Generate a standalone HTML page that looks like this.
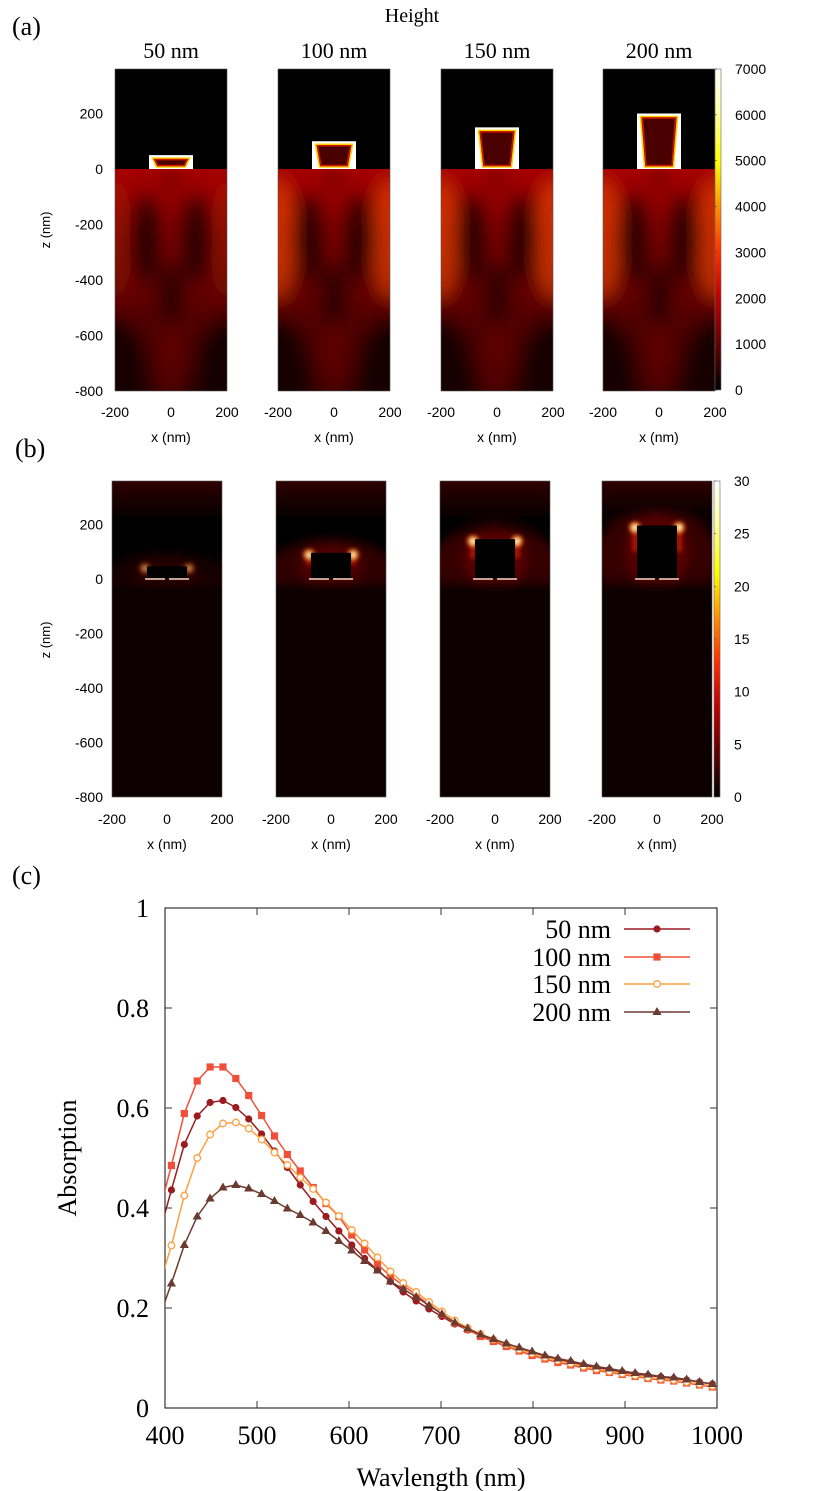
<!DOCTYPE html>
<html><head><meta charset="utf-8"><style>
html,body{margin:0;padding:0;background:#fff}
svg{display:block}
.sr{font-family:"Liberation Serif",serif}
.ss{font-family:"Liberation Sans",sans-serif}
</style></head><body>
<svg id="fig" width="830" height="1491" viewBox="0 0 830 1491" xmlns="http://www.w3.org/2000/svg">
<defs>
<linearGradient id="cmap" x1="0" y1="1" x2="0" y2="0">
<stop offset="0" stop-color="#000"/><stop offset="0.14" stop-color="#600000"/><stop offset="0.29" stop-color="#c00000"/>
<stop offset="0.43" stop-color="#ff3000"/><stop offset="0.57" stop-color="#ff9000"/><stop offset="0.71" stop-color="#ffff00"/>
<stop offset="0.86" stop-color="#ffffa0"/><stop offset="1" stop-color="#fff"/></linearGradient>
<filter id="blurA" x="-30%" y="-30%" width="160%" height="160%"><feGaussianBlur stdDeviation="9"/></filter>
<filter id="blurB" x="-30%" y="-30%" width="160%" height="160%"><feGaussianBlur stdDeviation="5"/></filter>
<filter id="blurS" x="-50%" y="-50%" width="200%" height="200%"><feGaussianBlur stdDeviation="2"/></filter>
<linearGradient id="baseA" x1="0" y1="0" x2="0" y2="1"><stop offset="0" stop-color="#b00000"/><stop offset="0.45" stop-color="#700000"/><stop offset="1" stop-color="#200000"/></linearGradient>
<linearGradient id="topB" x1="0" y1="0" x2="0" y2="1"><stop offset="0" stop-color="#3a0000"/><stop offset="1" stop-color="#000"/></linearGradient>
</defs>
<text class="sr" x="12" y="35" font-size="26">(a)</text>
<text class="sr" x="15" y="457" font-size="26">(b)</text>
<text class="sr" x="12" y="884" font-size="26">(c)</text>
<text class="sr" x="412" y="22" font-size="20" text-anchor="middle">Height</text>
<g id="maps"></g>
<g id="chart"></g>
</svg>
<script>
// ---- absorption chart data ----
const wavelengths = [393,407,421,435,449,463,477,491,505,519,533,547,561,575,589,603,617,631,645,659,673,687,701,715,729,743,757,771,785,799,813,827,841,855,869,883,897,911,925,939,953,967,981,995];
const abs50 = [0.344,0.436,0.527,0.584,0.611,0.615,0.601,0.578,0.548,0.514,0.481,0.446,0.413,0.383,0.354,0.326,0.299,0.276,0.253,0.232,0.214,0.198,0.183,0.168,0.156,0.145,0.136,0.127,0.118,0.110,0.103,0.097,0.092,0.086,0.081,0.077,0.072,0.068,0.065,0.062,0.059,0.056,0.052,0.048];
const abs100 = [0.387,0.485,0.589,0.654,0.682,0.682,0.659,0.625,0.585,0.544,0.507,0.474,0.441,0.409,0.383,0.346,0.316,0.287,0.264,0.245,0.226,0.207,0.188,0.170,0.157,0.143,0.133,0.123,0.114,0.105,0.098,0.091,0.086,0.080,0.075,0.071,0.067,0.063,0.059,0.056,0.054,0.050,0.046,0.042];
const abs150 = [0.240,0.325,0.425,0.500,0.547,0.569,0.571,0.559,0.537,0.511,0.486,0.461,0.438,0.411,0.384,0.356,0.329,0.301,0.273,0.250,0.232,0.212,0.193,0.175,0.160,0.148,0.137,0.127,0.117,0.109,0.101,0.095,0.089,0.083,0.078,0.073,0.069,0.065,0.061,0.058,0.056,0.052,0.048,0.044];
const abs200 = [0.177,0.249,0.326,0.383,0.419,0.441,0.446,0.439,0.428,0.414,0.399,0.386,0.371,0.354,0.334,0.315,0.294,0.275,0.253,0.238,0.222,0.205,0.188,0.171,0.159,0.147,0.138,0.129,0.121,0.113,0.105,0.099,0.094,0.088,0.083,0.079,0.074,0.070,0.067,0.063,0.061,0.057,0.052,0.048];
const xTicks = [400,500,600,700,800,900,1000];
const yTicks = [0,0.2,0.4,0.6,0.8,1];
const yTickLabels = ["0","0.2","0.4","0.6","0.8","1"];
const seriesNames = ["50 nm","100 nm","150 nm","200 nm"];
// ---- map panel data ----
const heights = [50,100,150,200];
const heightLabels = ["50 nm","100 nm","150 nm","200 nm"];
const zTicks = [200,0,-200,-400,-600,-800];
const xnmTicks = [-200,0,200];
const cbTicksA = [0,1000,2000,3000,4000,5000,6000,7000];
const cbTicksB = [0,5,10,15,20,25,30];

const NS="http://www.w3.org/2000/svg";
function mk(parent, tag, attrs, txt){const e=document.createElementNS(NS,tag);for(const k in attrs)e.setAttribute(k,attrs[k]);if(txt!==undefined)e.textContent=txt;parent.appendChild(e);return e;}

const maps=document.getElementById('maps');
const defs=document.querySelector('defs');
const leftsA=[115,278,441,603], leftsB=[112,276,440,602];
const colors=["#9b1c20","#f05039","#fca040","#6b3a30"];

function zAxis(top,z0,sz,xr,nameP){
  zTicks.forEach(z=>{const t=mk(maps,'text',{x:xr,y:z0-z*sz+5,'font-size':14,'text-anchor':'end',class:'ss'},String(z));
  
  });
}
function xAxis(left,w,yb,nameP){
  xnmTicks.forEach(x=>{const t=mk(maps,'text',{x:left+(x+200)*w/400,y:yb,'font-size':14,'text-anchor':'middle',class:'ss'},String(x));
  
  });
  const t=mk(maps,'text',{x:left+w/2,y:yb+25,'font-size':14,'text-anchor':'middle',class:'ss'},'x (nm)');
  
  
}
// Panel A
const aTop=69,aZ0=169,aBot=391,aS=0.2775,aW=112;
heights.forEach((H,i)=>{
  const L=leftsA[i],mid=L+aW/2,b=[0.15,0.8,0.8,0.8][i];
  const cp=mk(defs,'clipPath',{id:'ca'+i});mk(cp,'rect',{x:L,y:aTop,width:aW,height:aBot-aTop});
  const g=mk(maps,'g',{'clip-path':'url(#ca'+i+')'});
  
  
  mk(g,'rect',{x:L,y:aTop,width:aW,height:aBot-aTop,fill:'#000'});
  const cp2=mk(defs,'clipPath',{id:'cb'+i});mk(cp2,'rect',{x:L,y:aZ0,width:aW,height:aBot-aZ0});
  const gg=mk(g,'g',{'clip-path':'url(#cb'+i+')'});
  const bl=mk(gg,'g',{filter:'url(#blurA)'});
  mk(bl,'rect',{x:L-30,y:aZ0-20,width:aW+60,height:aBot-aZ0+40,fill:'url(#baseA)'});
  mk(bl,'ellipse',{cx:L,cy:aZ0+70,rx:18,ry:60,fill:'#ff5000',opacity:b*0.7});
  mk(bl,'ellipse',{cx:L+aW,cy:aZ0+70,rx:18,ry:60,fill:'#ff5000',opacity:b*0.7});
  mk(bl,'ellipse',{cx:L+31,cy:238,rx:16,ry:45,fill:'#120000',opacity:0.8});
  mk(bl,'ellipse',{cx:L+81,cy:238,rx:16,ry:45,fill:'#120000',opacity:0.8});
  mk(bl,'ellipse',{cx:mid,cy:292,rx:12,ry:32,fill:'#120000',opacity:0.75});
  mk(bl,'ellipse',{cx:mid,cy:aZ0+10,rx:5,ry:10,fill:'#200000',opacity:0.9});
  mk(bl,'ellipse',{cx:L,cy:372,rx:30,ry:55,fill:'#100000',opacity:0.9});
  mk(bl,'ellipse',{cx:L+aW,cy:372,rx:30,ry:55,fill:'#100000',opacity:0.9});
  mk(bl,'ellipse',{cx:mid,cy:362,rx:16,ry:35,fill:'#7a0000',opacity:0.5});
  const ty=aZ0-H*aS;
  mk(g,'rect',{x:mid-22,y:ty,width:44,height:aZ0-ty,fill:'#fff'});
  mk(g,'path',{d:`M${mid-18.5} ${ty+3} L${mid+18.5} ${ty+3} L${mid+14.5} ${aZ0-2} L${mid-14.5} ${aZ0-2} Z`,fill:'#4a0000',stroke:'#ffd000','stroke-width':1.6});
  mk(g,'path',{d:`M${mid-16.5} ${ty+4.5} L${mid+16.5} ${ty+4.5} L${mid+13} ${aZ0-3.5} L${mid-13} ${aZ0-3.5} Z`,fill:'none',stroke:'#d01800','stroke-width':1.4});
  mk(maps,'rect',{x:L,y:aTop,width:aW,height:aBot-aTop,fill:'none',stroke:'#555','stroke-width':0.6});
  const t=mk(maps,'text',{x:mid,y:58,'font-size':22,'text-anchor':'middle',class:'sr'},heightLabels[i]);
  
  
  xAxis(L,aW,417,'map-a');
});
zAxis(aTop,aZ0,aS,103,'map-a');
// Panel B
const bTop=481,bZ0=579,bBot=797,bS=0.2725,bW=110;
heights.forEach((H,i)=>{
  const L=leftsB[i],mid=L+bW/2,b=[0.35,0.8,0.9,0.9][i],ty=bZ0-H*bS;
  const cp=mk(defs,'clipPath',{id:'cc'+i});mk(cp,'rect',{x:L,y:bTop,width:bW,height:bBot-bTop});
  const g=mk(maps,'g',{'clip-path':'url(#cc'+i+')'});
  
  
  mk(g,'rect',{x:L,y:bTop,width:bW,height:bBot-bTop,fill:'#000'});
  const bl=mk(g,'g',{filter:'url(#blurB)'});
  mk(bl,'rect',{x:L-10,y:bTop-10,width:bW+20,height:50,fill:'url(#topB)'});
  mk(bl,'ellipse',{cx:mid,cy:(ty+bZ0)/2+5,rx:64,ry:(bZ0-ty)/2+18,fill:'#4a0000',opacity:b*0.8});
  mk(bl,'ellipse',{cx:mid,cy:(ty+bZ0)/2,rx:32,ry:(bZ0-ty)/2+8,fill:'#a00000',opacity:b*0.35});
  mk(bl,'rect',{x:L-10,y:bZ0+2,width:bW+20,height:bBot-bZ0+10,fill:'#080000'});
  const sp=mk(g,'g',{filter:'url(#blurS)'});
  [mid-22,mid+22].forEach(cx=>{
    mk(sp,'rect',{x:cx-2.5,y:ty,width:5,height:(bZ0-ty)*0.5,fill:'#e02000',opacity:b*0.8});
    mk(sp,'circle',{cx:cx,cy:ty+3,r:6,fill:'#ff5000',opacity:b});
    mk(sp,'circle',{cx:cx,cy:ty+3,r:3.5,fill:'#ffff60',opacity:b});
    mk(sp,'circle',{cx:cx,cy:ty+3,r:1.8,fill:'#fff',opacity:b});
  });
  mk(g,'rect',{x:mid-20,y:ty+1,width:40,height:bZ0-ty-1,fill:'#000',rx:1});
  mk(g,'line',{x1:mid-22,y1:bZ0,x2:mid-2,y2:bZ0,stroke:'#ffd8c0','stroke-width':1.5});
  mk(g,'line',{x1:mid+2,y1:bZ0,x2:mid+22,y2:bZ0,stroke:'#ffd8c0','stroke-width':1.5});
  mk(maps,'rect',{x:L,y:bTop,width:bW,height:bBot-bTop,fill:'none',stroke:'#555','stroke-width':0.6});
  xAxis(L,bW,824,'map-b');
});
zAxis(bTop,bZ0,bS,103,'map-b');
// z titles
[[50,230],[50,640]].forEach((p,k)=>{
  const t=mk(maps,'text',{x:p[0],y:p[1],'font-size':13,'text-anchor':'middle',class:'ss',transform:`rotate(-90 ${p[0]} ${p[1]})`},'z (nm)');
  
  
});
// colorbars
function cbar(x,top,bot,ticks,vmax,nm){
  const r=mk(maps,'rect',{x:x,y:top,width:6,height:bot-top,fill:'url(#cmap)',stroke:'#666','stroke-width':0.6});
  
  
  ticks.forEach(v=>{const y=bot-(v/vmax)*(bot-top);
    mk(maps,'line',{x1:x,y1:y,x2:x+2,y2:y,stroke:'#444','stroke-width':0.6});
    const t=mk(maps,'text',{x:x+20,y:y+5,'font-size':14,class:'ss'},String(v));
    
    });
}
cbar(715,69,390,cbTicksA,7000,'colorbar-a');
cbar(714,481,797,cbTicksB,30,'colorbar-b');

// ---- chart ----
const C=document.getElementById('chart');
const X0=165,X1=717,Y0=1408,Y1=908;
const xs=w=>X0+(w-400)*(X1-X0)/600;
const ys=v=>Y0-v*(Y0-Y1);
const cpc=mk(defs,'clipPath',{id:'plotclip'});mk(cpc,'rect',{x:X0,y:Y1,width:X1-X0,height:Y0-Y1});
const fr=mk(C,'rect',{x:X0,y:Y1,width:X1-X0,height:Y0-Y1,fill:'none',stroke:'#333','stroke-width':1.2});


xTicks.forEach(w=>{const x=xs(w);
  mk(C,'line',{x1:x,y1:Y0,x2:x,y2:Y0-7,stroke:'#333'});mk(C,'line',{x1:x,y1:Y1,x2:x,y2:Y1+7,stroke:'#333'});
  const t=mk(C,'text',{x:x,y:1444,'font-size':26,'text-anchor':'middle',class:'sr'},String(w));
  
  });
yTicks.forEach((v,k)=>{const y=ys(v);
  mk(C,'line',{x1:X0,y1:y,x2:X0+7,y2:y,stroke:'#333'});mk(C,'line',{x1:X1,y1:y,x2:X1-7,y2:y,stroke:'#333'});
  const t=mk(C,'text',{x:149,y:y+9,'font-size':26,'text-anchor':'end',class:'sr'},yTickLabels[k]);
  
  });
let t=mk(C,'text',{x:441,y:1486,'font-size':26,'text-anchor':'middle',class:'sr'},'Wavlength (nm)');


t=mk(C,'text',{x:76,y:1158,'font-size':26,'text-anchor':'middle',class:'sr',transform:'rotate(-90 76 1158)'},'Absorption');



function marker(g,k,x,y){
  const c=colors[k];
  if(k===0) return mk(g,'circle',{cx:x,cy:y,r:3.6,fill:c});
  if(k===1) return mk(g,'rect',{x:x-3.6,y:y-3.6,width:7.2,height:7.2,fill:c});
  if(k===2) return mk(g,'circle',{cx:x,cy:y,r:3.3,fill:'#fff',stroke:c,'stroke-width':1.3});
  return mk(g,'path',{d:`M${x} ${y-5} L${x+4.6} ${y+3} L${x-4.6} ${y+3} Z`,fill:c});
}
const allSeries=[abs50,abs100,abs150,abs200];
const pg=mk(C,'g',{'clip-path':'url(#plotclip)'});
allSeries.forEach((vals,k)=>{
  const g=mk(pg,'g',{});
  
  
  const pts=wavelengths.map((w,j)=>xs(w).toFixed(1)+','+ys(vals[j]).toFixed(1)).join(' ');
  const pl=mk(g,'polyline',{points:pts,fill:'none',stroke:colors[k],'stroke-width':1.5});
  
  
  wavelengths.forEach((w,j)=>{const m=marker(g,k,xs(w),ys(vals[j]));
    
    });
});
// legend
const legY=[929,957,984,1012];
seriesNames.forEach((n,k)=>{
  const g=mk(C,'g',{});
  
  
  mk(g,'text',{x:611,y:legY[k]+9,'font-size':26,'text-anchor':'end',class:'sr'},n);
  mk(g,'line',{x1:624,y1:legY[k],x2:690,y2:legY[k],stroke:colors[k],'stroke-width':1.5});
  marker(g,k,657,legY[k]);
});
</script>
</body></html>
